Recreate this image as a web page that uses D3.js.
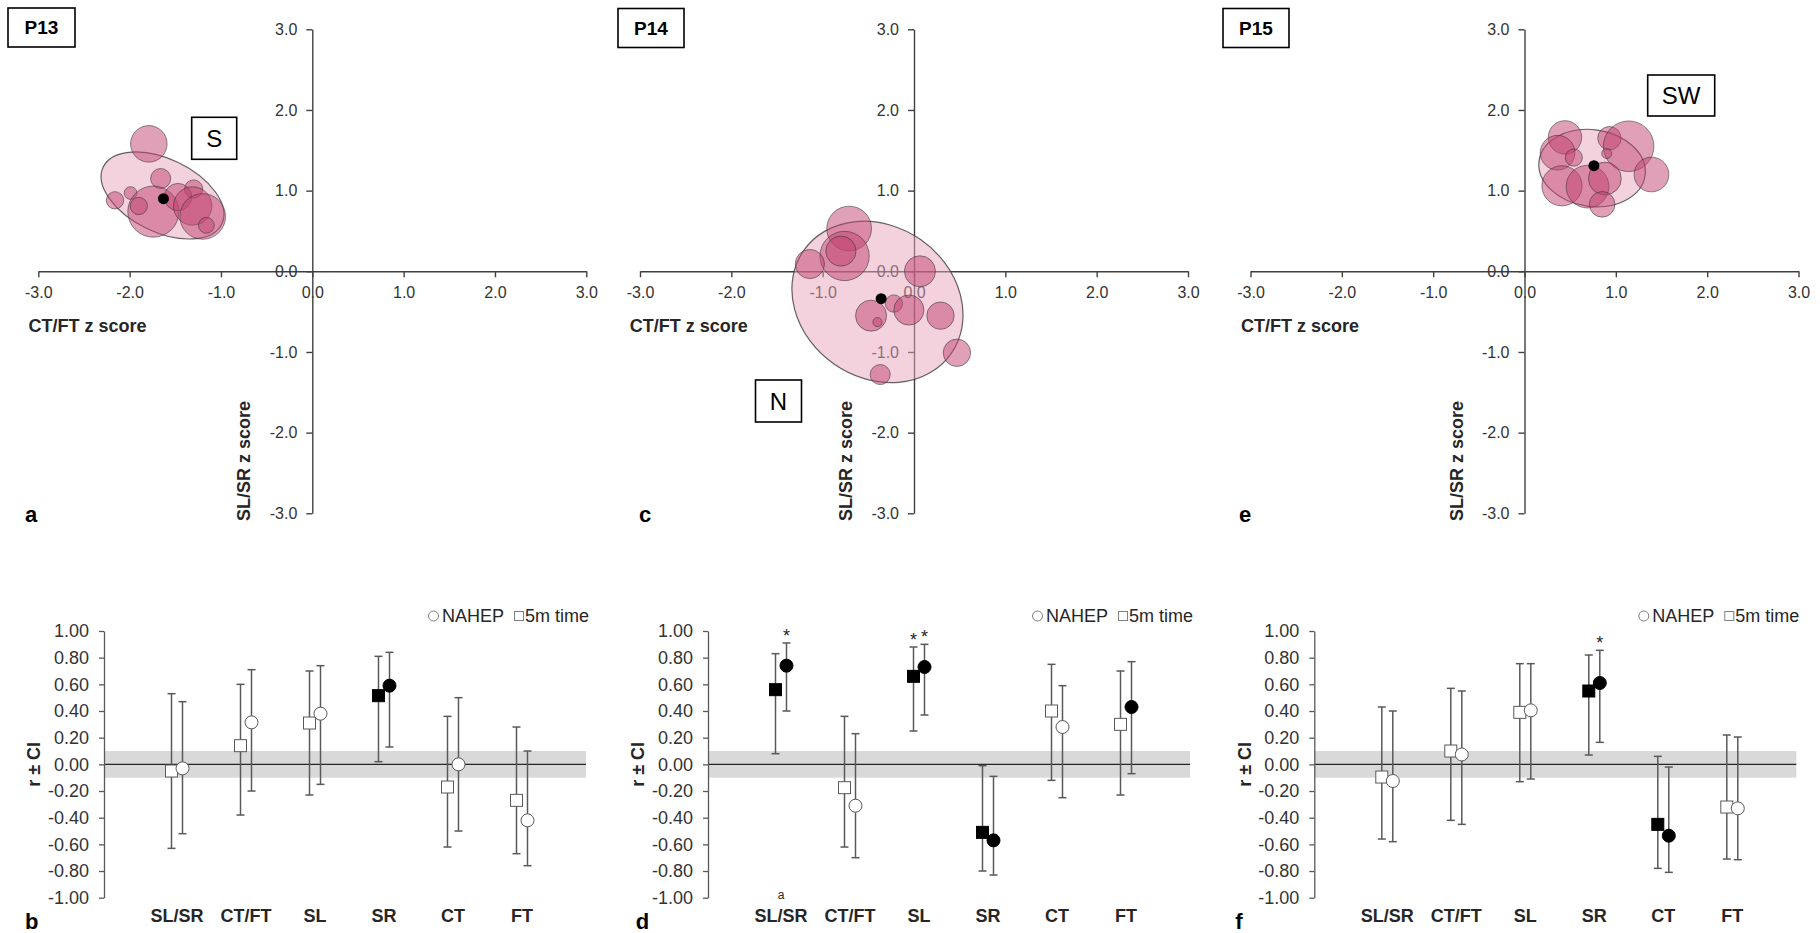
<!DOCTYPE html>
<html>
<head>
<meta charset="utf-8">
<script src="https://cdn.jsdelivr.net/npm/d3@7"></script>
<style>
  body { margin: 0; background: #fff; }
  svg text { font-family: Arial, "Liberation Sans", sans-serif; }
</style>
</head>
<body>
<svg id="chart" width="1820" height="933"></svg>
<script>
// ---------------------------------------------------------------
// data

// z score plots (a, c, e): bubbles are [CT/FT z, SL/SR z, radius in z units]
const zTicks = [-3, -2, -1, 0, 1, 2, 3];

const p13Bubbles = [
  [-1.79, 1.58, 0.20], [-1.66, 1.15, 0.11], [-1.30, 1.02, 0.10],
  [-1.99, 0.97, 0.07], [-2.16, 0.88, 0.095], [-1.74, 0.74, 0.28],
  [-1.90, 0.81, 0.095], [-1.47, 0.92, 0.15], [-1.31, 0.81, 0.21],
  [-1.20, 0.68, 0.25], [-1.16, 0.57, 0.087]
];
const p13Mean = [-1.63, 0.90];
// [cx, cy, semi-major, semi-minor, tilt deg]
const p13Ellipse = [-1.64, 0.94, 0.72, 0.40, 25.6];

const p14Bubbles = [
  [-0.71, 0.53, 0.245], [-0.76, 0.19, 0.27], [-0.80, 0.25, 0.165],
  [-1.14, 0.09, 0.16], [0.065, 0.00, 0.17], [-0.47, -0.55, 0.17],
  [-0.22, -0.40, 0.095], [-0.056, -0.48, 0.165], [0.29, -0.55, 0.15],
  [-0.40, -0.63, 0.05], [0.47, -1.01, 0.15], [-0.37, -1.28, 0.11]
];
const p14Mean = [-0.36, -0.34];
const p14Ellipse = [-0.40, -0.38, 0.985, 0.83, 35];

const p15Bubbles = [
  [0.443, 1.66, 0.183], [0.362, 1.47, 0.19], [0.54, 1.41, 0.094],
  [0.93, 1.65, 0.128], [1.14, 1.55, 0.277], [0.90, 1.46, 0.055],
  [1.39, 1.20, 0.19], [0.41, 1.06, 0.22], [0.69, 1.05, 0.234],
  [0.88, 1.15, 0.18], [0.85, 0.83, 0.14]
];
const p15Mean = [0.76, 1.31];
const p15Ellipse = [0.74, 1.28, 0.586, 0.42, 8];

const participants = ["P13", "P14", "P15"];
const profiles = ["S", "N", "SW"];

// correlation plots (b, d, f)
const categories = ["SL/SR", "CT/FT", "SL", "SR", "CT", "FT"];
const rTicks = [-1, -0.8, -0.6, -0.4, -0.2, 0, 0.2, 0.4, 0.6, 0.8, 1];

const p13TimeR   = [-0.05, 0.14, 0.31, 0.515, -0.17, -0.27];
const p13TimeLo  = [-0.63, -0.38, -0.23, 0.02, -0.62, -0.67];
const p13TimeHi  = [0.53, 0.60, 0.70, 0.81, 0.36, 0.28];
const p13TimeSig = [0, 0, 0, 1, 0, 0];
const p13TimeStar = [0, 0, 0, 0, 0, 0];
const p13NahepR   = [-0.03, 0.315, 0.38, 0.59, 0.00, -0.42];
const p13NahepLo  = [-0.52, -0.20, -0.15, 0.13, -0.50, -0.76];
const p13NahepHi  = [0.47, 0.71, 0.74, 0.84, 0.50, 0.10];
const p13NahepSig = [0, 0, 0, 1, 0, 0];
const p13NahepStar = [0, 0, 0, 0, 0, 0];
const p13Notes = ["", "", "", "", "", ""];

const p14TimeR   = [0.56, -0.175, 0.66, -0.51, 0.40, 0.30];
const p14TimeLo  = [0.08, -0.62, 0.25, -0.80, -0.12, -0.23];
const p14TimeHi  = [0.83, 0.36, 0.88, -0.01, 0.75, 0.70];
const p14TimeSig = [1, 0, 1, 1, 0, 0];
const p14TimeStar = [0, 0, 1, 0, 0, 0];
const p14NahepR   = [0.74, -0.31, 0.73, -0.57, 0.28, 0.43];
const p14NahepLo  = [0.40, -0.70, 0.37, -0.83, -0.25, -0.07];
const p14NahepHi  = [0.91, 0.23, 0.90, -0.09, 0.59, 0.77];
const p14NahepSig = [1, 0, 1, 1, 0, 1];
const p14NahepStar = [1, 0, 1, 0, 0, 0];
const p14Notes = ["a", "", "", "", "", ""];

const p15TimeR   = [-0.095, 0.10, 0.39, 0.55, -0.45, -0.32];
const p15TimeLo  = [-0.56, -0.42, -0.13, 0.07, -0.78, -0.71];
const p15TimeHi  = [0.43, 0.57, 0.755, 0.82, 0.06, 0.22];
const p15TimeSig = [0, 0, 0, 1, 1, 0];
const p15TimeStar = [0, 0, 0, 0, 0, 0];
const p15NahepR   = [-0.125, 0.074, 0.405, 0.61, -0.535, -0.33];
const p15NahepLo  = [-0.58, -0.45, -0.11, 0.165, -0.81, -0.715];
const p15NahepHi  = [0.40, 0.55, 0.755, 0.855, -0.02, 0.205];
const p15NahepSig = [0, 0, 0, 1, 1, 0];
const p15NahepStar = [0, 0, 0, 1, 0, 0];
const p15Notes = ["", "", "", "", "", ""];

// ---------------------------------------------------------------

const svg = d3.select("#chart");

const TEXT = "#262626";
const AXIS = "#404040";
const BAR = "#595959";

function drawZPanel(p) {
  const g = svg.append("g");

  const x = d3.scaleLinear().domain([-3, 3]).range([p.axisX - 274, p.axisX + 274]);
  const y = d3.scaleLinear().domain([-3, 3]).range([513.3, 29.3]);
  const unit = x(1) - x(0);

  const xAxis = d3.axisBottom(x)
    .tickValues(zTicks)
    .tickFormat(d => d.toFixed(1))
    .tickSize(6).tickSizeOuter(0).tickPadding(9);
  const yAxis = d3.axisLeft(y)
    .tickValues(zTicks)
    .tickFormat(d => d.toFixed(1))
    .tickSize(6).tickSizeOuter(0).tickPadding(9);

  g.append("g").attr("transform", `translate(0,${y(0)})`).call(xAxis);
  g.append("g").attr("transform", `translate(${x(0)},0)`).call(yAxis);

  g.selectAll(".domain, .tick line").attr("stroke", AXIS).attr("stroke-width", 1.4);
  g.selectAll(".tick text")
    .attr("font-size", 16)
    .attr("font-family", "Arial, 'Liberation Sans', sans-serif")
    .attr("fill", "#333");

  // confidence ellipse
  const e = p.ellipse;
  g.append("ellipse")
    .attr("cx", x(e[0])).attr("cy", y(e[1]))
    .attr("rx", e[2] * unit).attr("ry", e[3] * unit)
    .attr("transform", `rotate(${e[4]},${x(e[0])},${y(e[1])})`)
    .attr("fill", "#e8a3bb").attr("fill-opacity", 0.5)
    .attr("stroke", "#333").attr("stroke-opacity", 0.75).attr("stroke-width", 1.2);

  // trials
  g.append("g").selectAll("circle")
    .data(p.bubbles)
    .enter()
    .append("circle")
    .attr("cx", d => x(d[0]))
    .attr("cy", d => y(d[1]))
    .attr("r", d => d[2] * unit)
    .attr("fill", "#c2416f").attr("fill-opacity", 0.5)
    .attr("stroke", "#333").attr("stroke-opacity", 0.55).attr("stroke-width", 1);

  // mean
  g.append("circle")
    .attr("cx", x(p.mean[0])).attr("cy", y(p.mean[1]))
    .attr("r", 5.5).attr("fill", "#000");

  // axis titles
  g.append("text")
    .attr("x", p.titleX).attr("y", 332)
    .attr("font-size", 18).attr("font-weight", "bold").attr("fill", TEXT)
    .text("CT/FT z score");
  g.append("text")
    .attr("transform", `translate(${p.vTitleX},461) rotate(-90)`)
    .attr("text-anchor", "middle").attr("dy", "0.35em")
    .attr("font-size", 18).attr("font-weight", "bold").attr("fill", TEXT)
    .text("SL/SR z score");

  // participant box + profile box
  const boxes = [
    { b: p.nameBox, t: p.name, size: 19, weight: "bold" },
    { b: p.typeBox, t: p.type, size: 24, weight: "normal" }
  ];
  boxes.forEach(function(bx) {
    g.append("rect")
      .attr("x", bx.b[0]).attr("y", bx.b[1])
      .attr("width", bx.b[2]).attr("height", bx.b[3])
      .attr("fill", "#fff").attr("stroke", "#000").attr("stroke-width", 1.6);
    g.append("text")
      .attr("x", bx.b[0] + bx.b[2] / 2).attr("y", bx.b[1] + bx.b[3] / 2)
      .attr("dy", "0.36em").attr("text-anchor", "middle")
      .attr("font-size", bx.size).attr("font-weight", bx.weight).attr("fill", "#000")
      .text(bx.t);
  });

  g.append("text")
    .attr("x", p.letterX).attr("y", 522)
    .attr("font-size", 22).attr("font-weight", "bold").attr("fill", "#000")
    .text(p.letter);
}

function drawRPanel(p) {
  const g = svg.append("g");
  const left = p.axisX;
  const right = p.axisX + 482;

  const y = d3.scaleLinear().domain([-1, 1]).range([897.7, 631]);
  const x = d3.scalePoint().domain(categories).range([left + 73, left + 418]);

  // trivial band +-0.1 and zero line
  g.append("rect")
    .attr("x", left).attr("y", y(0.1))
    .attr("width", right - left).attr("height", y(-0.1) - y(0.1))
    .attr("fill", "#d9d9d9");
  g.append("line")
    .attr("x1", left).attr("x2", right)
    .attr("y1", y(0)).attr("y2", y(0))
    .attr("stroke", "#262626").attr("stroke-width", 1.2);

  const yAxis = d3.axisLeft(y)
    .tickValues(rTicks)
    .tickFormat(d => d.toFixed(2))
    .tickSize(5).tickSizeOuter(0).tickPadding(10);
  const ax = g.append("g").attr("transform", `translate(${left},0)`).call(yAxis);
  ax.selectAll(".domain, .tick line").attr("stroke", BAR).attr("stroke-width", 1.3);
  ax.selectAll(".tick text")
    .attr("font-size", 18)
    .attr("font-family", "Arial, 'Liberation Sans', sans-serif")
    .attr("fill", "#333");

  g.append("text")
    .attr("transform", `translate(${left - 70},${y(0)}) rotate(-90)`)
    .attr("text-anchor", "middle").attr("dy", "0.35em")
    .attr("font-size", 18).attr("font-weight", "bold").attr("fill", TEXT)
    .text("r \u00b1 CI");

  // 5m time (squares) first, then NAHEP (circles)
  p.series.forEach(function(s) {
    const rows = categories.map((c, i) => ({
      c: c, r: s.r[i], lo: s.lo[i], hi: s.hi[i], sig: s.sig[i], star: s.star[i]
    }));
    const cx = d => x(d.c) + s.dx;

    const bars = g.append("g").selectAll("g")
      .data(rows)
      .enter()
      .append("g")
      .attr("stroke", BAR).attr("stroke-width", 1.5);
    bars.append("line")
      .attr("x1", cx).attr("x2", cx)
      .attr("y1", d => y(d.hi)).attr("y2", d => y(d.lo));
    bars.append("line")
      .attr("x1", d => cx(d) - 4).attr("x2", d => cx(d) + 4)
      .attr("y1", d => y(d.hi)).attr("y2", d => y(d.hi));
    bars.append("line")
      .attr("x1", d => cx(d) - 4).attr("x2", d => cx(d) + 4)
      .attr("y1", d => y(d.lo)).attr("y2", d => y(d.lo));

    if (s.shape == "square") {
      g.append("g").selectAll("rect")
        .data(rows)
        .enter()
        .append("rect")
        .attr("x", d => cx(d) - 6).attr("y", d => y(d.r) - 6)
        .attr("width", 12).attr("height", 12)
        .attr("fill", d => d.sig ? "#000" : "#fff")
        .attr("stroke", d => d.sig ? "#000" : BAR).attr("stroke-width", 1);
    } else {
      g.append("g").selectAll("circle")
        .data(rows)
        .enter()
        .append("circle")
        .attr("cx", cx).attr("cy", d => y(d.r))
        .attr("r", 6.5)
        .attr("fill", d => d.sig ? "#000" : "#fff")
        .attr("stroke", d => d.sig ? "#000" : BAR).attr("stroke-width", 1);
    }

    g.append("g").selectAll("text")
      .data(rows.filter(d => d.star))
      .enter()
      .append("text")
      .attr("x", cx).attr("y", d => y(d.hi) - 1)
      .attr("text-anchor", "middle")
      .attr("font-size", 18).attr("fill", TEXT)
      .text("*");
  });

  // category labels and footnote marks
  categories.forEach(function(c, i) {
    g.append("text")
      .attr("x", x(c)).attr("y", 921.5)
      .attr("text-anchor", "middle")
      .attr("font-size", 18).attr("font-weight", "bold").attr("fill", TEXT)
      .text(c);
    if (p.notes[i]) {
      g.append("text")
        .attr("x", x(c)).attr("y", 899)
        .attr("text-anchor", "middle")
        .attr("font-size", 12).attr("fill", TEXT)
        .text(p.notes[i]);
    }
  });

  // legend
  const ly = 616;
  g.append("circle")
    .attr("cx", right - 152.5).attr("cy", ly).attr("r", 5)
    .attr("fill", "#fff").attr("stroke", "#7f7f7f").attr("stroke-width", 1);
  g.append("text")
    .attr("x", right - 144).attr("y", ly).attr("dy", "0.36em")
    .attr("font-size", 18).attr("fill", TEXT).text("NAHEP");
  g.append("rect")
    .attr("x", right - 71.5).attr("y", ly - 4.5).attr("width", 9).attr("height", 9)
    .attr("fill", "#fff").attr("stroke", "#7f7f7f").attr("stroke-width", 1);
  g.append("text")
    .attr("x", right - 61).attr("y", ly).attr("dy", "0.36em")
    .attr("font-size", 18).attr("fill", TEXT).text("5m time");

  g.append("text")
    .attr("x", p.letterX).attr("y", 929)
    .attr("font-size", 22).attr("font-weight", "bold").attr("fill", "#000")
    .text(p.letter);
}

// ---------------------------------------------------------------
// panels

drawZPanel({
  axisX: 312.3, bubbles: p13Bubbles, mean: p13Mean, ellipse: p13Ellipse,
  name: participants[0], type: profiles[0],
  nameBox: [8, 8, 67, 39], typeBox: [191.7, 117.3, 45, 42],
  titleX: 28.5, vTitleX: 243.2, letter: "a", letterX: 25
});
drawZPanel({
  axisX: 914, bubbles: p14Bubbles, mean: p14Mean, ellipse: p14Ellipse,
  name: participants[1], type: profiles[1],
  nameBox: [618, 8.5, 66, 39], typeBox: [755.5, 380, 46, 42],
  titleX: 629.8, vTitleX: 845.3, letter: "c", letterX: 639
});
drawZPanel({
  axisX: 1524.5, bubbles: p15Bubbles, mean: p15Mean, ellipse: p15Ellipse,
  name: participants[2], type: profiles[2],
  nameBox: [1223, 8.5, 66, 39], typeBox: [1647.7, 75, 67, 41],
  titleX: 1241, vTitleX: 1457, letter: "e", letterX: 1239
});

function seriesFor(timeR, timeLo, timeHi, timeSig, timeStar, nR, nLo, nHi, nSig, nStar) {
  return [
    { shape: "square", dx: -5.5, r: timeR, lo: timeLo, hi: timeHi, sig: timeSig, star: timeStar },
    { shape: "circle", dx: 5.5, r: nR, lo: nLo, hi: nHi, sig: nSig, star: nStar }
  ];
}

drawRPanel({
  axisX: 104, letter: "b", letterX: 25, notes: p13Notes,
  series: seriesFor(p13TimeR, p13TimeLo, p13TimeHi, p13TimeSig, p13TimeStar,
                    p13NahepR, p13NahepLo, p13NahepHi, p13NahepSig, p13NahepStar)
});
drawRPanel({
  axisX: 708, letter: "d", letterX: 635.7, notes: p14Notes,
  series: seriesFor(p14TimeR, p14TimeLo, p14TimeHi, p14TimeSig, p14TimeStar,
                    p14NahepR, p14NahepLo, p14NahepHi, p14NahepSig, p14NahepStar)
});
drawRPanel({
  axisX: 1314.3, letter: "f", letterX: 1235.3, notes: p15Notes,
  series: seriesFor(p15TimeR, p15TimeLo, p15TimeHi, p15TimeSig, p15TimeStar,
                    p15NahepR, p15NahepLo, p15NahepHi, p15NahepSig, p15NahepStar)
});
</script>
</body>
</html>
